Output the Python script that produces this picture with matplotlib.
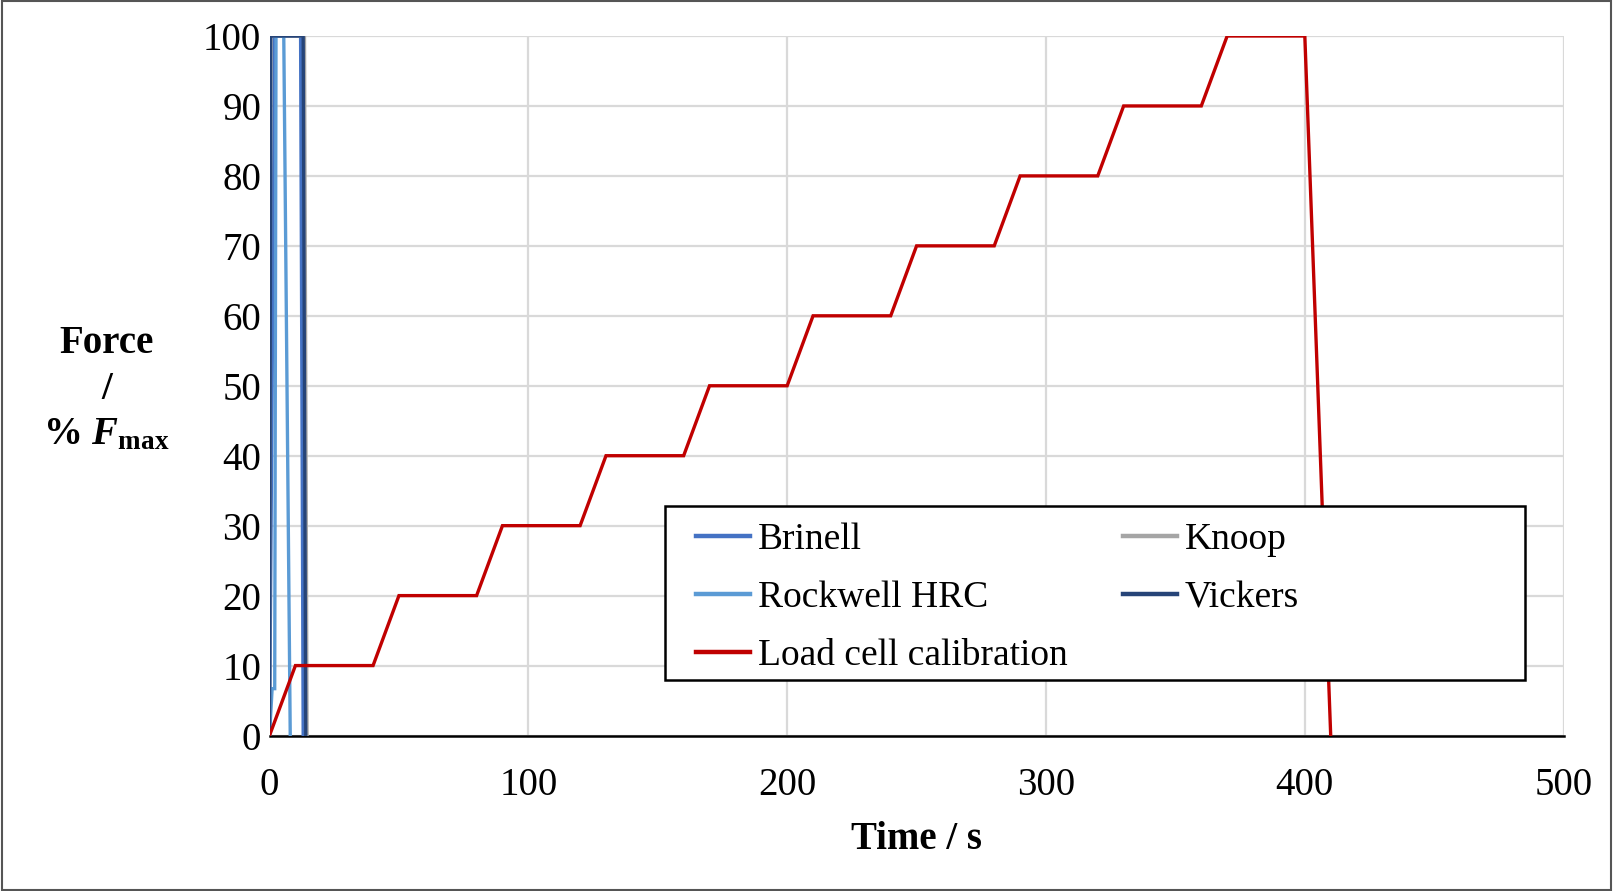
import matplotlib
matplotlib.use("Agg")
import matplotlib.pyplot as plt
from matplotlib.patches import Rectangle

# Force profiles, % of maximum test force against time in seconds
BRINELL_T = [0, 2, 12, 13]
BRINELL_F = [0, 100, 100, 0]
KNOOP_T = [0, 0.5, 13.5, 14.5]
KNOOP_F = [0, 100, 100, 0]
ROCKWELL_T = [0, 1, 2, 2.5, 5.5, 8]
ROCKWELL_F = [0, 6.7, 6.7, 100, 100, 0]
VICKERS_T = [0, 0.5, 13, 14]
VICKERS_F = [0, 100, 100, 0]
LOADCELL_T = [0, 10, 40, 50, 80, 90, 120, 130, 160, 170, 200, 210, 240,
              250, 280, 290, 320, 330, 360, 370, 400, 410]
LOADCELL_F = [0, 10, 10, 20, 20, 30, 30, 40, 40, 50, 50, 60, 60,
              70, 70, 80, 80, 90, 90, 100, 100, 0]

SERIES = [
    ("Brinell", BRINELL_T, BRINELL_F, "#4472C4"),
    ("Knoop", KNOOP_T, KNOOP_F, "#A5A5A5"),
    ("Rockwell HRC", ROCKWELL_T, ROCKWELL_F, "#5B9BD5"),
    ("Vickers", VICKERS_T, VICKERS_F, "#264478"),
    ("Load cell calibration", LOADCELL_T, LOADCELL_F, "#C00000"),
]

plt.rcParams["font.family"] = ["Liberation Serif", "DejaVu Serif"]
plt.rcParams["mathtext.fontset"] = "custom"
plt.rcParams["mathtext.it"] = "Liberation Serif:italic:bold"
plt.rcParams["mathtext.rm"] = "Liberation Serif:bold"

fig = plt.figure(figsize=(16.13, 8.91), dpi=100)
ax = fig.add_axes([0.1671, 0.1745, 0.8023, 0.7851])

handles = {}
for name, t, f, color in SERIES:
    (ln,) = ax.plot(t, f, color=color, lw=2.4, label=name, solid_joinstyle="miter")
    handles[name] = ln

ax.set_xlim(0, 500)
ax.set_ylim(0, 100)
ax.set_xticks(range(0, 501, 100))
ax.set_yticks(range(0, 101, 10))
ax.grid(True, color="#D9D9D9", lw=1.6)
ax.set_axisbelow(True)
for side in ("left", "right", "top"):
    ax.spines[side].set_visible(False)
ax.spines["bottom"].set_linewidth(1.8)
ax.spines["bottom"].set_zorder(1)
ax.tick_params(axis="both", length=0, labelsize=28)
ax.tick_params(axis="x", pad=23)
ax.tick_params(axis="y", pad=6)

ax.set_xlabel("Time / s", fontsize=28, fontweight="bold", labelpad=12)
fig.text(0.066, 0.5634, "Force\n/\n% $F$$_{\\mathrm{max}}$", ha="center", va="center",
         fontsize=28, fontweight="bold", linespacing=1.3)

# legend box: Excel fills rows first, so lay the two columns out separately
ax.add_patch(Rectangle((0.3056, 0.0793), 0.6646, 0.2487, transform=ax.transAxes,
                       facecolor="white", edgecolor="black", lw=1.8, zorder=4))
legend_kw = dict(loc="upper left", fontsize=27, frameon=False, borderaxespad=0,
                 borderpad=0, handlelength=1.45, handletextpad=0.2, labelspacing=0.62)
col1 = ["Brinell", "Rockwell HRC", "Load cell calibration"]
col2 = ["Knoop", "Vickers"]
leg1 = ax.legend([handles[n] for n in col1], col1, bbox_to_anchor=(0.3295, 0.304),
                 **legend_kw)
ax.add_artist(leg1)
leg2 = ax.legend([handles[n] for n in col2], col2, bbox_to_anchor=(0.6595, 0.304),
                 **legend_kw)
for lg in (leg1, leg2):
    lg.set_zorder(5)
    for hl in lg.get_lines():
        hl.set_linewidth(3.2)

fig.patches.append(Rectangle((0.001, 0.001), 0.998, 0.998, transform=fig.transFigure,
                             fill=False, edgecolor="#555555", lw=1.5))

fig.savefig("out.png", dpi=100)
